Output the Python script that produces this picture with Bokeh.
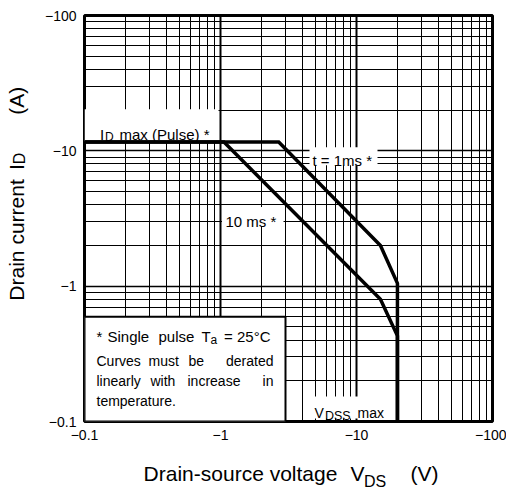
from bokeh.plotting import figure
from bokeh.models import Label, FixedTicker, CustomJSTickFormatter, LogAxis
from bokeh.embed import file_html
from bokeh.resources import INLINE

# ---------------- data (datasheet polarity: negative) ----------------
id_pulse_max = -11.6      # A, I_D max (Pulse)
vdss_max = -20.0          # V
t1ms_vds = [-0.1, -2.68, -15.0, vdss_max, vdss_max]
t1ms_id = [id_pulse_max, id_pulse_max, -2.0, -1.05, -0.1]
t10ms_vds = [-0.1, -1.06, -15.0, vdss_max, vdss_max]
t10ms_id = [id_pulse_max, id_pulse_max, -0.8, -0.43, -0.1]
x_tick_values = [-0.1, -1, -10, -100]
x_tick_labels = ["\u22120.1", "\u22121", "\u221210", "\u2212100"]
y_tick_values = [-0.1, -1, -10, -100]
y_tick_labels = ["\u22120.1", "\u22121", "\u221210", "\u2212100"]
x_title_parts = ["Drain-source voltage", "V", "(V)"]
x_title_sub = ["DS"]
y_title_parts = ["Drain current", "I", "(A)"]
y_title_sub = ["D"]

# ---------------- layout helpers (page pixel -> data) ----------------
FL, FR, FT, FB = 84.0, 492.0, 15.0, 422.0
def fx(px):
    return 10 ** (-1 + 3 * (px - FL) / (FR - FL))
def fy(py):
    return 10 ** (2 - 3 * (py - FT) / (FB - FT))

FONT = "Liberation Sans"
W, H = 506, 492

p = figure(width=W, height=H, x_axis_type="log", y_axis_type="log",
           x_range=(0.1, 100), y_range=(0.1, 100),
           output_backend="svg", toolbar_location=None,
           min_border_left=int(FL), min_border_right=int(W - FR),
           min_border_top=int(FT), min_border_bottom=int(H - FB))
p.background_fill_color = "white"
p.border_fill_color = "white"
p.outline_line_color = "black"
p.outline_line_width = 3

decades = [0.1, 1, 10, 100]
minors = [m * d for d in (0.1, 1, 10) for m in range(2, 10)]
for g, w in ((p.xgrid[0], 2), (p.ygrid[0], 1.5)):
    g.ticker = FixedTicker(ticks=decades, minor_ticks=minors)
    g.grid_line_color = "black"
    g.grid_line_width = w
    g.grid_line_alpha = 1
    g.minor_grid_line_color = "black"
    g.minor_grid_line_width = 1

fmt_code = ("for (let i = 0; i < vals.length; i++) {"
            " if (Math.abs(vals[i] - tick) <= 1e-6 * vals[i]) return labels[i]; }"
            " return '';")

def style_axis(ax, ticks, labels, size, standoff):
    ax.ticker = FixedTicker(ticks=ticks)
    ax.formatter = CustomJSTickFormatter(args=dict(vals=ticks, labels=labels), code=fmt_code)
    ax.axis_line_color = None
    ax.major_tick_line_color = None
    ax.minor_tick_line_color = None
    ax.major_tick_out = 0
    ax.major_tick_in = 0
    ax.minor_tick_out = 0
    ax.minor_tick_in = 0
    ax.major_label_standoff = standoff
    ax.major_label_text_font = FONT
    ax.major_label_text_font_size = f"{size}px"
    ax.major_label_text_color = "black"

style_axis(p.xaxis[0], [abs(v) for v in x_tick_values], x_tick_labels, 14, 8)
style_axis(p.yaxis[0], [abs(v) for v in y_tick_values], y_tick_labels, 14, 8)

# axis titles drawn as label rows of extra axes (pieces positioned along the axis)
ax_xt = LogAxis()
style_axis(ax_xt, [fx(c) for c in (240, 357, 424)], x_title_parts, 21, 19)
p.add_layout(ax_xt, "below")
ax_xs = LogAxis()
style_axis(ax_xs, [fx(374.6)], x_title_sub, 16, -15)
p.add_layout(ax_xs, "below")

ax_yt = LogAxis()
style_axis(ax_yt, [fy(c) for c in (240, 167, 100.5)], y_title_parts, 21, 13)
ax_yt.major_label_orientation = "vertical"
p.add_layout(ax_yt, "left")
ax_ys = LogAxis()
style_axis(ax_ys, [fy(158.2)], y_title_sub, 16, -26)
ax_ys.major_label_orientation = "vertical"
p.add_layout(ax_ys, "left")

# white boxes behind in-plot labels (cover the grid only)
boxes = [(84, 109, 218, 141), (309, 147, 377, 165), (221.5, 207, 283, 226), (311, 397, 395.5, 419)]
p.quad(left=[fx(b[0]) for b in boxes], right=[fx(b[2]) for b in boxes],
       top=[fy(b[1]) for b in boxes], bottom=[fy(b[3]) for b in boxes],
       fill_color="white", line_color=None)
# note box
p.quad(left=[fx(84)], right=[fx(285)], top=[fy(317)], bottom=[fy(422)],
       fill_color="white", line_color="black", line_width=2)

# SOA curves
p.line([-v for v in t10ms_vds], [-i for i in t10ms_id], line_color="black", line_width=3.5, line_join="miter")
p.line([-v for v in t1ms_vds], [-i for i in t1ms_id], line_color="black", line_width=3.5, line_join="miter")

def txt(s, px, py, size, align="left"):
    p.add_layout(Label(x=fx(px), y=fy(py), text=s, text_font=FONT, text_font_size=f"{size}px",
                       text_color="black", text_align=align, text_baseline="alphabetic"))

# in-plot labels
txt("I", 99.5, 134, 15)
txt("D", 104.5, 137, 12)
txt("max (Pulse) *", 119, 134, 15)
txt("t = 1ms *", 312, 160, 15)
txt("10 ms *", 225, 221.5, 15)
txt("V", 314, 413, 14)
txt("DSS", 324.5, 416.5, 12.5)
txt("max", 357, 413, 14)

# note text
txt("*", 96, 337, 15)
txt("Single", 107, 337, 15)
txt("pulse", 158, 337, 15)
txt("T", 201, 337, 15)
txt("a", 210, 340, 12)
txt("= 25\u00b0C", 270, 337, 15, align="right")
txt("Curves", 96, 361.5, 14)
txt("must", 148, 361.5, 14)
txt("be", 188, 361.5, 14)
txt("derated", 273, 361.5, 14, align="right")
txt("linearly", 96, 381.5, 14)
txt("with", 150, 381.5, 14)
txt("increase", 187, 381.5, 14)
txt("in", 273, 381.5, 14, align="right")
txt("temperature.", 96, 401, 14)

open("out.html", "w").write(file_html(p, INLINE))
